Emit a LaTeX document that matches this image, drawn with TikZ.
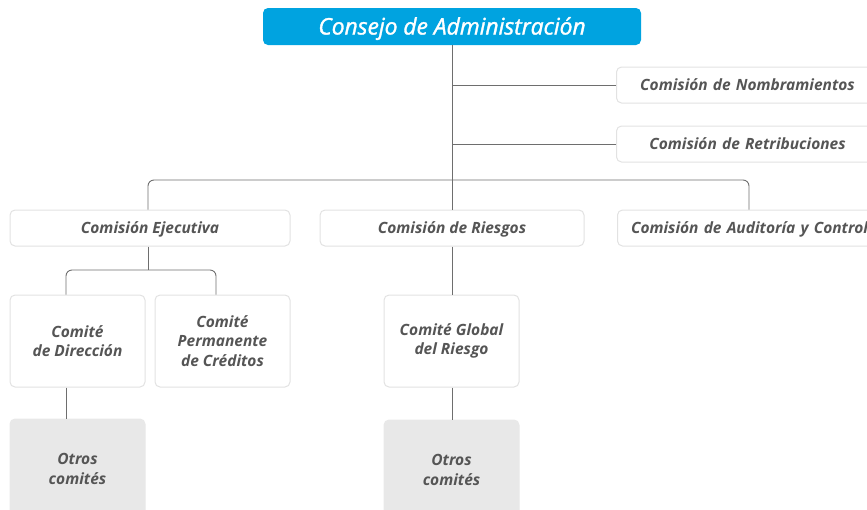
\documentclass[tikz,border=0pt]{standalone}
\usepackage{fontspec}
\setmainfont{Open Sans}
\newfontfamily\titlefont[FakeBold=1.5, ItalicFeatures={FakeBold=1.5}]{Open Sans}
\definecolor{cblue}{HTML}{00A3E0}
\definecolor{ctext}{HTML}{555555}
\definecolor{cline}{HTML}{6E6E6E}
\definecolor{cborder}{HTML}{E2E2E2}
\definecolor{cgrey}{HTML}{E8E8E8}
\begin{document}
\begin{tikzpicture}[x=1pt,y=-1pt,
  box/.style={draw=cborder, line width=1pt, fill=white, rounded corners=5pt, inner sep=0pt,
    text=ctext, font=\fontsize{15.5}{19.5}\selectfont\bfseries\itshape, align=center},
  onebox/.style={box, minimum height=36pt, text height=11pt, text depth=0pt},
  greybox/.style={box, draw=cgrey, fill=cgrey},
  conn/.style={draw=cline, line width=0.9pt},
]
\useasboundingbox (0,0) rectangle (867,509);
\clip (0,0) rectangle (867,509);
% nodes
\node[draw=none, fill=cblue, rounded corners=5pt, minimum width=378pt, minimum height=37pt,
  inner sep=0pt, text height=16pt, text depth=0pt,
  text=white, font=\titlefont\fontsize{22.8}{26}\selectfont\itshape] (cons) at (452,26.5) {Consejo de Administración};
\node[onebox, minimum width=262pt, anchor=west, text width=262pt] (nomb) at (616,85)
  {Comisión de Nombramientos};
\node[onebox, minimum width=262pt, anchor=west, text width=262pt] (retr) at (616,144)
  {Comisión de Retribuciones};
\node[onebox, minimum width=280pt] (ejec) at (150,228) {Comisión Ejecutiva};
\node[onebox, minimum width=264pt] (ries) at (452,228) {Comisión de Riesgos};
\node[onebox, minimum width=264pt, anchor=west, text width=264pt] (aud) at (617,228)
  {Comisión de Auditoría y Control};
\node[box, minimum width=135pt, minimum height=92pt] (dir) at (77.5,341) {Comité\\de Dirección};
\node[box, minimum width=135pt, minimum height=92pt] (cred) at (222.5,341) {Comité\\Permanente\\de Créditos};
\node[box, minimum width=135pt, minimum height=92pt] (glob) at (451.5,341) {Comité Global\\del Riesgo};
\node[greybox, minimum width=135pt, minimum height=100pt] (otr1) at (77.5,469) {Otros\\comités};
\node[greybox, minimum width=135pt, minimum height=100pt] (otr2) at (451.5,470) {Otros\\comités};
% connectors
\coordinate (busL) at (148,180);
\coordinate (busR) at (749,180);
\coordinate (busM) at (452,180);
\draw[conn] (cons.south -| busM) -- (busM);
\draw[conn] (452,85) -- (nomb.west);
\draw[conn] (452,144) -- (retr.west);
\draw[conn, rounded corners=6pt] (busL |- ejec.north) -- (busL) -- (busR) -- (busR |- aud.north);
\draw[conn] (busM) -- (ries.north -| busM);
\coordinate (sbL) at (66,270);
\coordinate (sbR) at (216,270);
\draw[conn] (busL |- ejec.south) -- (busL |- sbL);
\draw[conn, rounded corners=6pt] (sbL |- dir.north) -- (sbL) -- (sbR) -- (sbR |- cred.north);
\draw[conn] (ries.south -| busM) -- (glob.north -| busM);
\draw[conn] (dir.south -| sbL) -- (otr1.north -| sbL);
\draw[conn] (glob.south -| busM) -- (otr2.north -| busM);
\end{tikzpicture}
\end{document}
